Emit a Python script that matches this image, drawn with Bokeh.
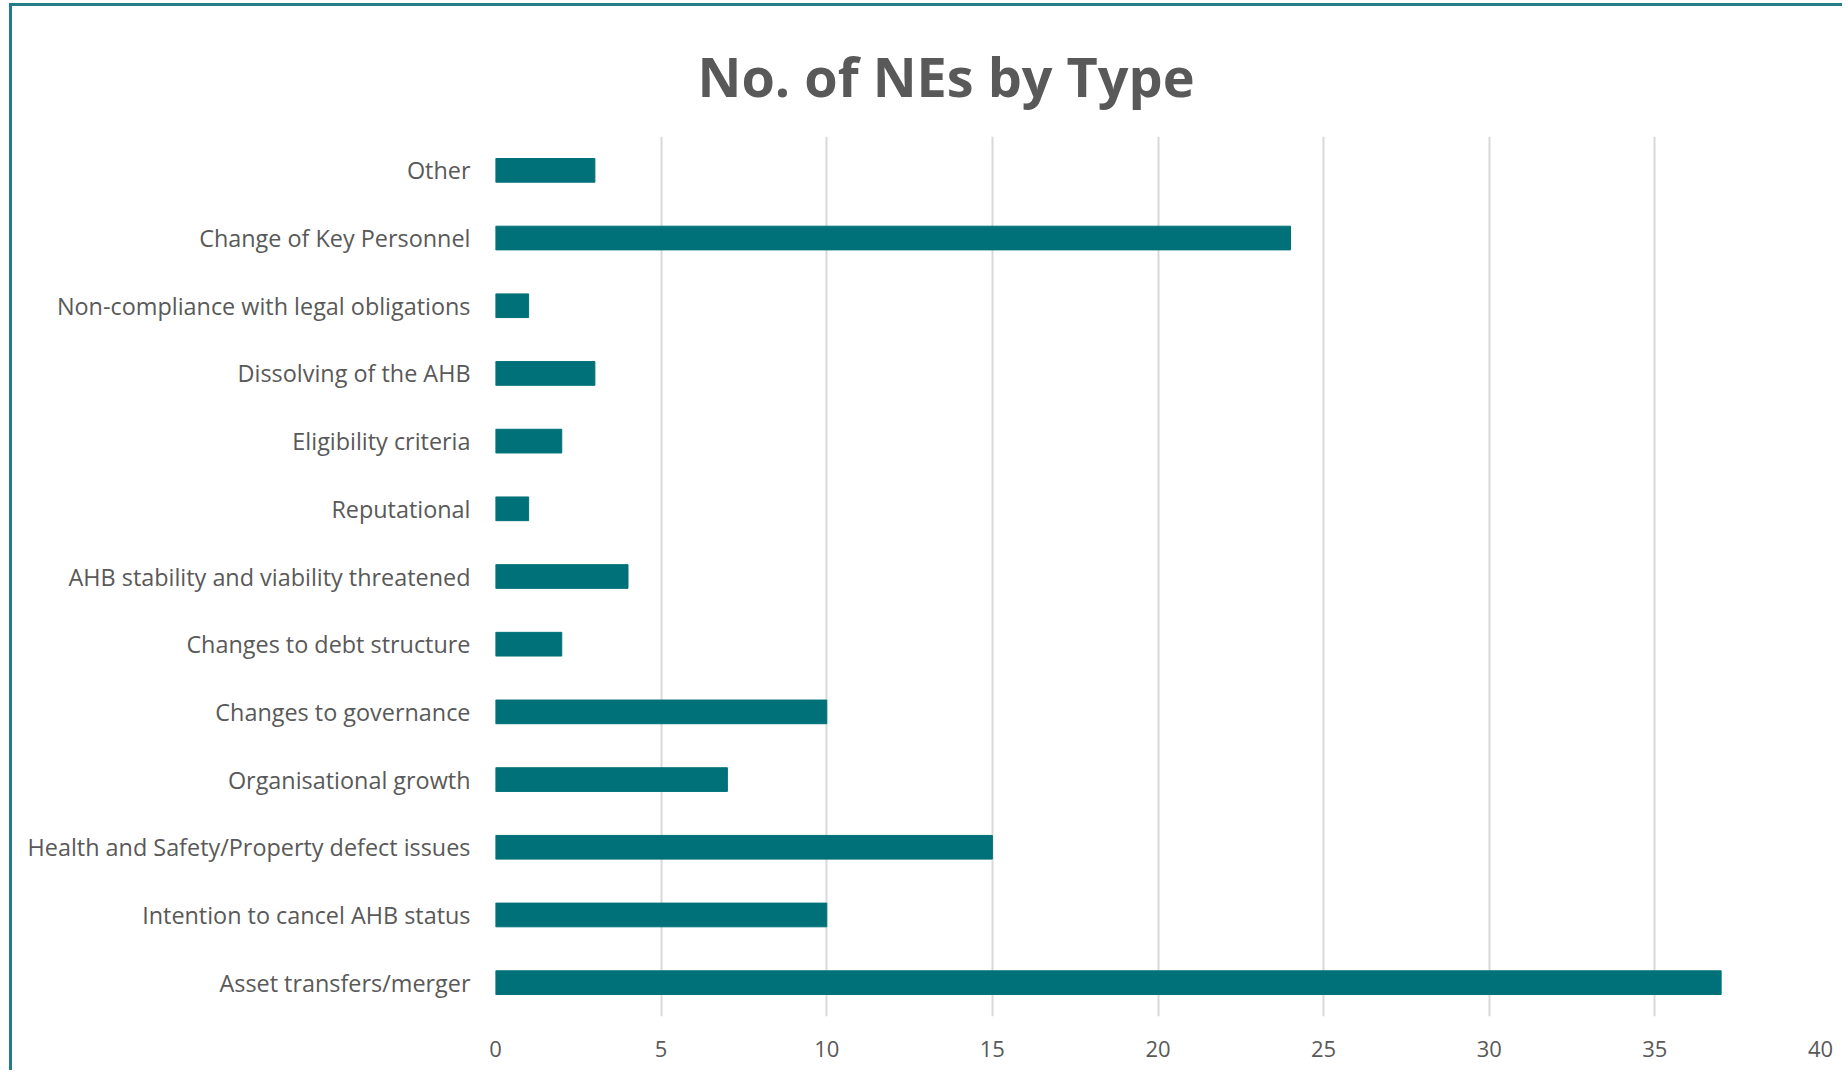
from bokeh.plotting import figure
from bokeh.models import FactorRange, Range1d, ColumnDataSource, FixedTicker
from bokeh.embed import file_html
from bokeh.resources import INLINE

categories = [
    "Other",
    "Change of Key Personnel",
    "Non-compliance with legal obligations",
    "Dissolving of the AHB",
    "Eligibility criteria",
    "Reputational",
    "AHB stability and viability threatened",
    "Changes to debt structure",
    "Changes to governance",
    "Organisational growth",
    "Health and Safety/Property defect issues",
    "Intention to cancel AHB status",
    "Asset transfers/merger",
]
counts = [3, 24, 1, 3, 2, 1, 4, 2, 10, 7, 15, 10, 37]
x_ticks = [0, 5, 10, 15, 20, 25, 30, 35, 40]
title_text = "No. of NEs by Type"

TEXT = "#595959"
BAR = "#007179"
BORDER = "#237C86"
FONT = "Open Sans"

src = ColumnDataSource(dict(cat=categories, val=counts))

p = figure(
    width=1833, height=1067,
    y_range=FactorRange(factors=categories[::-1], range_padding=0),
    x_range=Range1d(0, 40),
    output_backend="svg", toolbar_location=None,
    min_border_left=483, min_border_right=25,
    min_border_top=130, min_border_bottom=57,
)
p.styles = {
    "border-left": f"3px solid {BORDER}",
    "border-top": f"3px solid {BORDER}",
    "margin-left": "9px",
    "margin-top": "3px",
}

p.hbar(y="cat", left=0, right="val", height=0.35, color=BAR, source=src)

p.title.text = title_text
p.title.text_font = FONT
p.title.text_font_style = "bold"
p.title.text_font_size = "54px"
p.title.text_color = TEXT
p.title.align = "left"
p.title.offset = 202
p.title.standoff = 48

p.outline_line_color = None
p.ygrid.grid_line_color = None
p.xgrid.grid_line_color = "#D9D9D9"
p.xgrid.grid_line_width = 2
p.xaxis.ticker = FixedTicker(ticks=x_ticks)

for ax in (p.xaxis[0], p.yaxis[0]):
    ax.axis_line_color = None
    ax.major_tick_line_color = None
    ax.minor_tick_line_color = None
    ax.major_label_text_font = FONT
    ax.major_label_text_color = TEXT

p.yaxis.major_label_text_font_size = "23.4px"
p.xaxis.major_label_text_font_size = "22px"
p.yaxis.major_label_standoff = 19
p.xaxis.major_label_standoff = 18

open("out.html", "w").write(file_html(p, INLINE))
